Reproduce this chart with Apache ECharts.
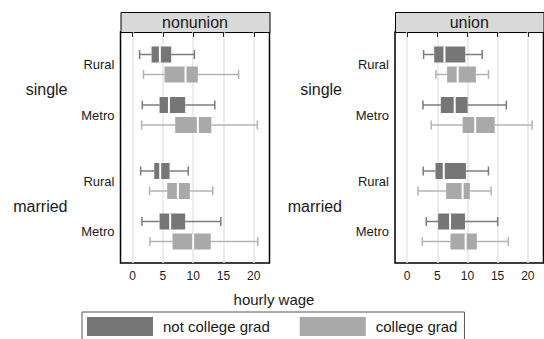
<!DOCTYPE html>
<html><head><meta charset="utf-8">
<script src="https://cdn.jsdelivr.net/npm/echarts@6/dist/echarts.min.js"></script>
<style>html,body{margin:0;padding:0;background:#fff}#c{width:544px;height:339px}</style>
</head><body><div id="c"></div>
<script>
// ---------- data ----------
const panels = ['nonunion', 'union'];
const groups = ['single', 'married'];
const areas = ['Rural', 'Metro'];
const seriesNames = ['not college grad', 'college grad'];
const xTicks = [0, 5, 10, 15, 20];
const axisTitle = 'hourly wage';
// rows: single-Rural, single-Metro, married-Rural, married-Metro
// each: [lower whisker, Q1, median, Q3, upper whisker]
const nonunionNotGrad = [[1.15, 3.13, 4.5, 6.37, 10.2], [1.6, 4.45, 6.0, 8.68, 13.57], [1.32, 3.57, 4.56, 6.1, 9.18], [1.54, 4.45, 6.2, 8.68, 14.56]];
const nonunionGrad    = [[1.8, 5.27, 8.74, 10.77, 17.5], [1.48, 7.03, 10.77, 13.0, 20.6], [2.8, 5.71, 7.47, 9.45, 13.24], [2.86, 6.59, 10.0, 12.9, 20.66]];
const unionNotGrad    = [[2.74, 4.49, 6.19, 9.64, 12.44], [2.63, 5.59, 7.89, 10.03, 16.44], [2.68, 4.71, 6.08, 9.75, 13.48], [3.18, 5.15, 7.12, 9.59, 15.01]];
const unionGrad       = [[4.77, 6.63, 8.38, 11.4, 13.48], [4.0, 9.2, 11.29, 14.52, 20.7], [1.81, 6.47, 9.2, 10.4, 13.92], [2.52, 7.18, 9.7, 11.56, 16.77]];
const panelData = [[nonunionNotGrad, nonunionGrad], [unionNotGrad, unionGrad]];

// ---------- layout / style ----------
const FONT = 'Liberation Sans, Arial, sans-serif';
const X_MIN = -2, X_MAX = 22.6;
const Y_MAX = 11.55, TOP = 1.125, PAIR_STEP = 1, AREA_STEP = 2.525, GROUP_STEP = 5.825;
const BOX_H = 0.8, CAP_H = 0.45;
const fills = ['#767676', '#a9a9a9'];
const whiskerColors = ['#7c7c7c', '#b3b3b3'];
const grids = [{ left: 120.5, top: 32, width: 149, height: 231 }, { left: 395, top: 32, width: 148.5, height: 231 }];

function yPos(g, a, s) { return TOP + g * GROUP_STEP + a * AREA_STEP + s * PAIR_STEP; }

function boxRenderer(sIdx) {
  return function (params, api) {
    const y = api.value(0);
    const pLo = api.coord([api.value(1), y]);
    const pQ1 = api.coord([api.value(2), y]);
    const pMd = api.coord([api.value(3), y]);
    const pQ3 = api.coord([api.value(4), y]);
    const pHi = api.coord([api.value(5), y]);
    const cy = pMd[1];
    const h = api.size([0, BOX_H])[1];
    const ch = api.size([0, CAP_H])[1];
    const wc = whiskerColors[sIdx];
    const ls = { stroke: wc, lineWidth: 1.5 };
    return {
      type: 'group', children: [
        { type: 'line', shape: { x1: pLo[0], y1: cy, x2: pQ1[0], y2: cy }, style: ls },
        { type: 'line', shape: { x1: pQ3[0], y1: cy, x2: pHi[0], y2: cy }, style: ls },
        { type: 'line', shape: { x1: pLo[0], y1: cy - ch / 2, x2: pLo[0], y2: cy + ch / 2 }, style: ls },
        { type: 'line', shape: { x1: pHi[0], y1: cy - ch / 2, x2: pHi[0], y2: cy + ch / 2 }, style: ls },
        { type: 'rect', shape: { x: pQ1[0], y: cy - h / 2, width: pQ3[0] - pQ1[0], height: h }, style: { fill: api.visual('color') } },
        { type: 'line', shape: { x1: pMd[0], y1: cy - h / 2, x2: pMd[0], y2: cy + h / 2 }, style: { stroke: '#fff', lineWidth: 2 } }
      ]
    };
  };
}

function labelRenderer(params, api) {
  const y = api.value(0);
  const kind = api.value(2);
  const p = api.coord([X_MIN, y]);
  const off = kind === 0 ? 6 : 53;
  return {
    type: 'text', x: p[0] - off, y: p[1],
    style: { text: api.value(1), fontSize: kind === 0 ? 13 : 16, fontFamily: FONT, fill: '#1a1a1a', align: 'right', verticalAlign: 'middle' }
  };
}

const series = [];
const xAxes = [], yAxes = [];
const graphics = [];
panels.forEach((pName, pi) => {
  xAxes.push({
    type: 'value', gridIndex: pi, min: X_MIN, max: X_MAX,
    axisLine: { show: false },
    axisTick: { show: true, customValues: xTicks, length: 5, lineStyle: { color: '#222', width: 1 } },
    axisLabel: { customValues: xTicks, fontSize: 12, fontFamily: FONT, color: '#1a1a1a', margin: 7 },
    splitLine: { show: true, lineStyle: { color: '#e6e6e6', width: 1.5 } }
  });
  yAxes.push({ type: 'value', gridIndex: pi, min: 0, max: Y_MAX, inverse: true, show: false });
  seriesNames.forEach((sName, si) => {
    const rows = panelData[pi][si];
    const data = [];
    groups.forEach((g, gi) => areas.forEach((a, ai) => {
      data.push([yPos(gi, ai, si)].concat(rows[gi * areas.length + ai]));
    }));
    series.push({
      type: 'custom', name: sName, xAxisIndex: pi, yAxisIndex: pi,
      itemStyle: { color: fills[si] },
      encode: { x: [1, 2, 3, 4, 5], y: 0 },
      renderItem: boxRenderer(si), data: data, silent: true
    });
  });
  const labels = [];
  groups.forEach((g, gi) => {
    labels.push([yPos(gi, 0, 0) + (AREA_STEP + PAIR_STEP) / 2, g, 1]);
    areas.forEach((a, ai) => labels.push([yPos(gi, ai, 0) + PAIR_STEP / 2, a, 0]));
  });
  series.push({
    type: 'custom', name: 'labels' + pi, xAxisIndex: pi, yAxisIndex: pi,
    encode: { x: -1, y: 0 }, renderItem: labelRenderer, data: labels, silent: true
  });
  const gr = grids[pi];
  graphics.push({ type: 'rect', left: gr.left, top: 12, shape: { width: gr.width, height: 20 }, style: { fill: '#d9d9d9', stroke: '#000', lineWidth: 1 } });
  graphics.push({ type: 'text', x: gr.left + gr.width / 2, y: 22.5, style: { text: pName, fontSize: 16, fontFamily: FONT, fill: '#1a1a1a', align: 'center', verticalAlign: 'middle' } });
});
graphics.push({ type: 'text', x: 274, y: 299, style: { text: axisTitle, fontSize: 15, fontFamily: FONT, fill: '#1a1a1a', align: 'center', verticalAlign: 'middle' } });

const chart = echarts.init(document.getElementById('c'), null, { renderer: 'svg' });
chart.setOption({
  animation: false,
  backgroundColor: '#fff',
  grid: grids.map(g => Object.assign({ show: true, borderColor: '#000', borderWidth: 1.5, backgroundColor: 'transparent' }, g)),
  xAxis: xAxes, yAxis: yAxes,
  legend: {
    data: seriesNames, left: 82, top: 312, icon: 'rect', itemWidth: 66, itemHeight: 19, itemGap: 30,
    padding: [5, 7, 12, 5], borderColor: '#555', borderWidth: 1, selectedMode: false,
    textStyle: { fontSize: 15, fontFamily: FONT, color: '#1a1a1a', padding: [0, 0, 0, 5] }
  },
  graphic: graphics,
  series: series
});
</script></body></html>
